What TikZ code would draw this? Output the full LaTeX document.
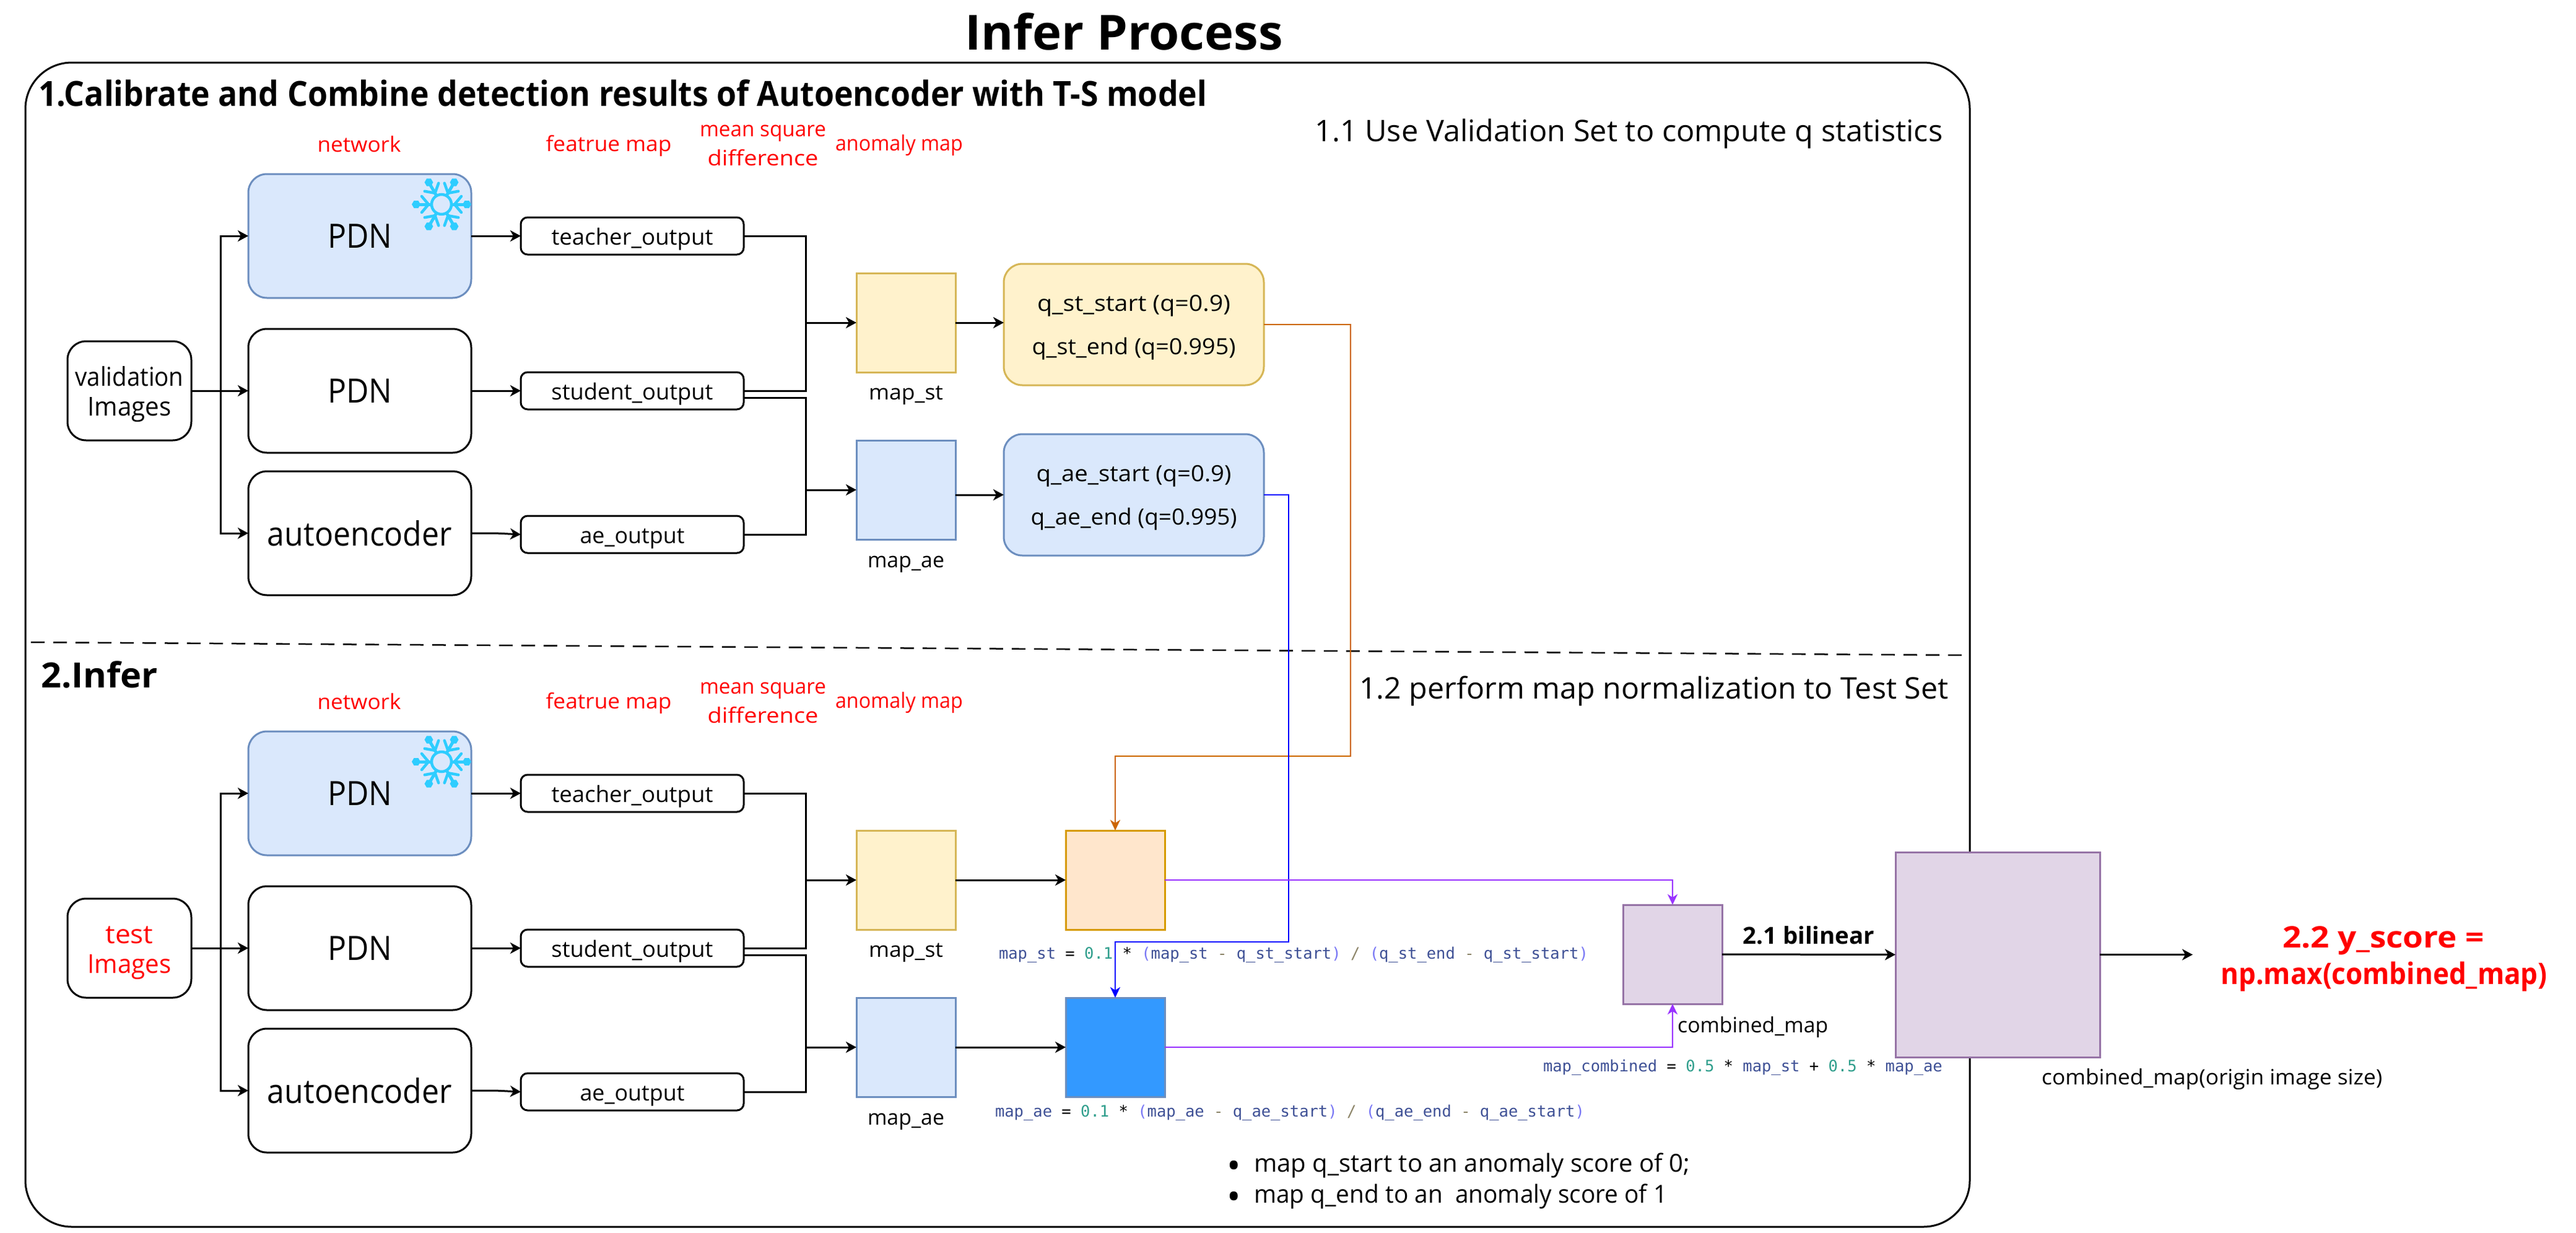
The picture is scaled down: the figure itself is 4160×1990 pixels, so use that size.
\documentclass[tikz,border=0pt]{standalone}
\usepackage{fontspec}
\usepackage{graphicx}
\usetikzlibrary{arrows.meta}
\setmainfont{Open Sans}
\newfontfamily\codefont{DejaVu Sans Mono}
\definecolor{bluefill}{HTML}{DAE8FC}
\definecolor{bluedraw}{HTML}{6C8EBF}
\definecolor{yelfill}{HTML}{FFF2CC}
\definecolor{yeldraw}{HTML}{D6B656}
\definecolor{orafill}{HTML}{FFE6CC}
\definecolor{oradraw}{HTML}{D79B00}
\definecolor{solidblue}{HTML}{3399FF}
\definecolor{purfill}{HTML}{E1D5E7}
\definecolor{purdraw}{HTML}{9673A6}
\definecolor{oraline}{HTML}{CC6600}
\definecolor{purline}{HTML}{9933FF}
\definecolor{snow}{HTML}{2ECDFF}
\definecolor{cid}{HTML}{3F5196}
\definecolor{cnum}{HTML}{2F9E8C}
\definecolor{cpar}{HTML}{7A78F5}
\definecolor{cop}{HTML}{8C8468}
\newcommand{\fw}[2]{\resizebox{#1pt}{\height}{#2}}
\newcommand{\fs}[1]{\fontsize{#1}{#1}\selectfont}
\newcommand{\ci}[1]{\textcolor{cid}{#1}}
\newcommand{\cn}[1]{\textcolor{cnum}{#1}}
\newcommand{\cp}[1]{\textcolor{cpar}{#1}}
\newcommand{\co}[1]{\textcolor{cop}{#1}}
\tikzset{
  arr/.style={-{Stealth[length=17pt,width=18pt,inset=5pt]},line width=3pt,black},
  wire/.style={line width=3pt,black},
  colarr/.style={-{Stealth[length=17pt,width=16pt,inset=5pt]},line width=2.6pt},
  netbox/.style={draw=black,fill=white,line width=3pt,rounded corners=30pt,minimum width=360pt,minimum height=200pt,anchor=north west,inner sep=0pt,outer sep=0pt},
  frozen/.style={netbox,draw=bluedraw,fill=bluefill},
  outbox/.style={draw=black,fill=white,line width=3pt,rounded corners=11pt,minimum width=360pt,minimum height=60pt,anchor=north west,inner sep=0pt,outer sep=0pt,text height=36pt,text depth=8pt},
  inbox/.style={draw=black,fill=white,line width=3pt,rounded corners=30pt,minimum width=200pt,minimum height=160pt,anchor=north west,inner sep=0pt,outer sep=0pt,align=center},
  qbox/.style={line width=3pt,rounded corners=30pt,minimum width=420pt,minimum height=196pt,anchor=north west,inner sep=0pt,outer sep=0pt,align=center},
  mapbox/.style={line width=3pt,minimum width=160pt,minimum height=160pt,anchor=north west,inner sep=0pt,outer sep=0pt},
  lbl/.style={anchor=base,inner sep=0pt,outer sep=0pt},
  redlbl/.style={lbl,text=red,font=\fs{34}},
  codelbl/.style={anchor=base west,inner sep=0pt,outer sep=0pt,font=\codefont\fs{25.5}},
}
\newcommand{\flake}[2]{%
  \begin{scope}[shift={(#1,#2)},snow,line width=5pt,line cap=round]
    \draw[line width=4.5pt] (0,0) circle (16pt);
    \foreach \a in {0,60,...,300}{
      \begin{scope}[rotate=\a]
        \draw (17,0) -- (42,0);
        \draw[line width=4.5pt] (21,0) -- (32,13) (21,0) -- (32,-13);
        \fill (48,0) -- (44.5,6) -- (37.5,6) -- (34,0) -- (37.5,-6) -- (44.5,-6) -- cycle;
      \end{scope}
    }
  \end{scope}}
\newcommand{\panel}[3]{%
  \begin{scope}[shift={(0,#2)}]
    \node[redlbl] (#1netlbl) at (580,245) {\fw{135}{network}};
    \node[redlbl] (#1featlbl) at (983,244) {\fw{203}{featrue map}};
    \node[redlbl] (#1msa) at (1232,220) {\fw{204}{mean square}};
    \node[redlbl] (#1msb) at (1232,267) {\fw{179}{difference}};
    \node[redlbl] (#1anolbl) at (1452,243) {\fw{206}{anomaly map}};
    \node[inbox,font=\fontsize{42}{48}\selectfont] (#1in) at (109,551) {#3};
    \node[frozen,font=\fs{54}] (#1pdna) at (401,281) {\fw{104}{PDN}};
    \node[netbox,font=\fs{54}] (#1pdnb) at (401,531) {\fw{104}{PDN}};
    \node[netbox,font=\fs{54}] (#1ae) at (401,761) {\fw{298}{autoencoder}};
    \node[outbox,font=\fs{36}] (#1tea) at (841,351) {\fw{261}{teacher\_output}};
    \node[outbox,font=\fs{36}] (#1stu) at (841,601) {\fw{261}{student\_output}};
    \node[outbox,font=\fs{36}] (#1aeo) at (841,833) {\fw{169}{ae\_output}};
    \coordinate (#1busin) at (356,631);
    \coordinate (#1busa) at (1301,521);
    \coordinate (#1busb) at (1301,791);
    \coordinate (#1stub) at (1201,642);
    \coordinate (#1aebend) at (800,861);
    \draw[arr] (#1in.east) -- (#1pdnb.west);
    \draw[arr] (#1busin) |- (#1pdna.west);
    \draw[arr] (#1busin) |- (#1ae.west);
    \draw[arr] (#1pdna.east) -- (#1tea.west);
    \draw[arr] (#1pdnb.east) -- (#1stu.west);
    \draw[arr] (#1ae.east) -- (#1aebend) -- (#1aeo.west);
    \draw[wire] (#1tea.east) -| (#1busa);
    \draw[wire] (#1stu.east) -| (#1busa);
    \draw[wire] (#1stub) -| (#1busb);
    \draw[wire] (#1aeo.east) -| (#1busb);
    \flake{713}{330}
    \node[mapbox,draw=yeldraw,fill=yelfill] (#1mapst) at (1383,441) {};
    \node[mapbox,draw=bluedraw,fill=bluefill] (#1mapae) at (1383,711) {};
    \draw[arr] (#1busa) -- (#1mapst.west);
    \draw[arr] (#1busb) -- (#1mapae.west);
    \node[lbl,font=\fs{34}] (#1mapstl) at (1463,645) {\fw{120}{map\_st}};
    \node[lbl,font=\fs{34}] (#1mapael) at (1463,916) {\fw{124}{map\_ae}};
  \end{scope}}
\begin{document}
\begin{tikzpicture}[x=1pt,y=-1pt]
\useasboundingbox (0,0) rectangle (4160,1990);
\fill[white] (0,0) rectangle (4160,1990);
\draw[line width=3pt,rounded corners=75pt,black] (41,101) rectangle (3181,1981);
\node[lbl,font=\bfseries\fs{78}] (title) at (1815,80) {\fw{514}{Infer Process}};
\node[anchor=base west,inner sep=0pt,font=\bfseries\fs{56}] (head1) at (62,171) {\fw{1887}{1.Calibrate and Combine detection results of Autoencoder with T-S model}};
\node[anchor=base west,inner sep=0pt,font=\fs{48}] (sub1) at (2123,228) {\fw{1014}{1.1 Use Validation Set to compute q statistics}};
\coordinate (dashl) at (50,1037);
\coordinate (dashr) at (3172,1058);
\draw[line width=2.5pt,dash pattern=on 22pt off 14pt] (dashl) -- (dashr);
\node[anchor=base west,inner sep=0pt,font=\bfseries\fs{56}] (head2) at (66,1110) {\fw{189}{2.Infer}};
\node[anchor=base west,inner sep=0pt,font=\fs{48}] (sub2) at (2195,1128) {\fw{951}{1.2 perform map normalization to Test Set}};
\panel{u}{0}{\rule{0pt}{44pt}\fw{175}{validation}\\\rule[-11pt]{0pt}{11pt}\fw{135}{Images}}
\panel{l}{900}{\rule{0pt}{44pt}\textcolor{red}{\fw{77}{test}}\\\rule[-11pt]{0pt}{11pt}\textcolor{red}{\fw{135}{Images}}}
% quantile boxes
\node[qbox,draw=yeldraw,fill=yelfill,font=\fontsize{36}{70}\selectfont] (qst) at (1621,426) {\rule{0pt}{37pt}\fw{312}{q\_st\_start (q=0.9)}\\\rule[-10pt]{0pt}{10pt}\fw{329}{q\_st\_end (q=0.995)}};
\node[qbox,draw=bluedraw,fill=bluefill,font=\fontsize{36}{70}\selectfont] (qae) at (1621,701) {\rule{0pt}{37pt}\fw{315}{q\_ae\_start (q=0.9)}\\\rule[-10pt]{0pt}{10pt}\fw{333}{q\_ae\_end (q=0.995)}};
\draw[arr] (umapst.east) -- (umapst.east -| qst.west);
\draw[arr] (umapae.east |- qae.west) -- (qae.west);
% normalized maps
\node[mapbox,draw=oradraw,fill=orafill] (normst) at (1721,1341) {};
\node[mapbox,draw=bluedraw,fill=solidblue] (normae) at (1721,1611) {};
\draw[arr] (lmapst.east) -- (normst.west);
\draw[arr] (lmapae.east) -- (normae.west);
\coordinate (oturn) at (2181,1221);
\coordinate (bturn) at (2081,1521);
\draw[colarr,oraline] (qst.east) -| (oturn) -| (normst.north);
\draw[colarr,blue] (qae.east) -| (bturn) -| (normae.north);
% combined
\node[mapbox,draw=purdraw,fill=purfill] (comb) at (2621,1461) {};
\node[mapbox,draw=purdraw,fill=purfill,minimum width=330pt,minimum height=331pt] (big) at (3061,1376) {};
\draw[colarr,purline] (normst.east) -| (comb.north);
\draw[colarr,purline] (normae.east) -| (comb.south);
\draw[arr] (comb.east) -- (big.west);
\coordinate (outend) at (3541,1541.5);
\draw[arr] (big.east) -- (outend);
% code
\node[codelbl] (code1) at (1613,1548) {\ci{map\_st} = \cn{0.1} * \cp{(}\ci{map\_st} \co{-} \ci{q\_st\_start}\cp{)} \co{/} \cp{(}\ci{q\_st\_end} \co{-} \ci{q\_st\_start}\cp{)}};
\node[codelbl] (code2) at (1607,1803) {\ci{map\_ae} = \cn{0.1} * \cp{(}\ci{map\_ae} \co{-} \ci{q\_ae\_start}\cp{)} \co{/} \cp{(}\ci{q\_ae\_end} \co{-} \ci{q\_ae\_start}\cp{)}};
\node[codelbl] (code3) at (2492,1730) {\ci{map\_combined} = \cn{0.5} * \ci{map\_st} + \cn{0.5} * \ci{map\_ae}};
% labels
\node[anchor=base west,inner sep=0pt,font=\fs{34}] (combl) at (2709,1667) {\fw{243}{combined\_map}};
\node[anchor=base west,inner sep=0pt,font=\bfseries\fs{38}] (bil) at (2814,1524) {\fw{213}{2.1 bilinear}};
\node[anchor=base west,inner sep=0pt,font=\fs{34}] (bigl) at (3297,1751) {\fw{550}{combined\_map(origin image size)}};
\node[lbl,text=red,font=\bfseries\fs{48}] (yscorea) at (3849,1530) {\fw{326}{2.2 y\_score =}};
\node[lbl,text=red,font=\bfseries\fs{48}] (yscoreb) at (3850,1589) {\fw{527}{np.max(combined\_map)}};
\node[anchor=base,inner sep=0pt,font=\fs{60}] (buLa) at (1993,1903) {\textbullet};
\node[anchor=base,inner sep=0pt,font=\fs{60}] (buLb) at (1993,1953) {\textbullet};
\node[anchor=base west,inner sep=0pt,font=\fs{40}] (bua) at (2025,1892) {\fw{704}{map q\_start to an anomaly score of 0;}};
\node[anchor=base west,inner sep=0pt,font=\fs{40}] (bub) at (2025,1942) {\fw{667}{map q\_end to an\ \ anomaly score of 1}};
\end{tikzpicture}
\end{document}
